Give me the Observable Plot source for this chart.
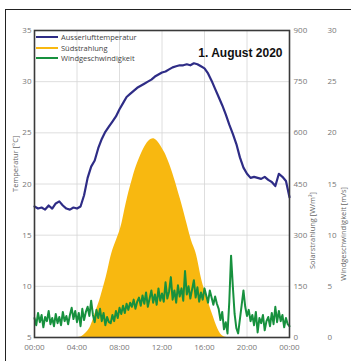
<!DOCTYPE html>
<html>
<head>
<meta charset="utf-8">
<script src="https://cdn.jsdelivr.net/npm/d3@7"></script>
<script src="https://cdn.jsdelivr.net/npm/@observablehq/plot@0.6"></script>
<style>
  html, body { margin: 0; padding: 0; background: #fff; }
  #wrap { position: relative; width: 351px; height: 361px; overflow: hidden; background:#fff; }
  #outer { position: absolute; left: 5px; top: 9px; width: 400px; height: 400px; border-top: 1px solid #222; border-left: 1px solid #222; pointer-events:none; }
  #legend { position: absolute; left: 36px; top: 32px; font-family: "Open Sans", sans-serif; font-size: 7.5px; color: #444; line-height: 10.5px; }
  #legend div { display: flex; align-items: center; white-space: nowrap; }
  #legend span.sw { display: inline-block; width: 22px; height: 2px; margin-right: 3px; }
  #chart { position: absolute; left: 0; top: 0; }
</style>
</head>
<body>
<div id="wrap">
  <div id="chart"></div>
  <div id="outer"></div>
  <div id="legend"></div>
</div>
<script>
// ---- data ----
const seriesNames = ["Ausserlufttemperatur", "Südstrahlung", "Windgeschwindigkeit"];
const seriesColors = ["#2e2c86", "#f8b810", "#17913e"];

// Außenlufttemperatur [°C], every 20 minutes from 00:00 to 24:00
const tempValues = [
  17.8, 17.6, 17.7, 17.5, 17.9, 17.6, 18.1, 18.3, 17.9, 17.6, 17.5, 17.7,
  17.6, 17.8, 18.9, 20.6, 21.7, 22.3, 23.5, 24.4, 25.1, 25.6, 26.1, 26.6,
  27.3, 27.9, 28.5, 28.8, 29.1, 29.4, 29.6, 29.8, 30.0, 30.2, 30.5, 30.7,
  30.9, 31.0, 31.2, 31.4, 31.5, 31.6, 31.6, 31.7, 31.6, 31.8, 31.7, 31.5,
  31.3, 30.8, 30.1, 29.3, 28.5, 27.7, 26.8, 25.8, 24.9, 23.9, 22.6, 21.6,
  21.0, 20.6, 20.7, 20.6, 20.5, 20.7, 20.4, 20.2, 19.8, 21.0, 20.7, 20.3,
  18.7
];

// Südstrahlung [W/m²], every 15 minutes from 00:00 to 24:00
const solarValues = [
  0, 0, 0, 0, 0, 0, 0, 0, 0, 0, 0, 0, 0, 0, 0, 0,
  0, 0, 3, 10, 18, 28, 50, 75, 95, 120, 148, 175, 210, 245, 268, 288,
  308, 335, 375, 410, 440, 468, 495, 515, 535, 552, 566, 576, 582, 584, 578, 568,
  556, 543, 525, 505, 483, 458, 430, 405, 375, 345, 315, 285, 265, 245, 205, 165,
  140, 118, 90, 68, 45, 25, 10, 3, 0, 0, 0, 0, 0, 0, 0, 0,
  0, 0, 0, 0, 0, 0, 0, 0, 0, 0, 0, 0, 0, 0, 0, 0,
  0
];

// Windgeschwindigkeit [m/s], every 10 minutes from 00:00 to 24:00
const windValues = [
  1.9, 1.2, 2.4, 1.5, 2.2, 1.0, 2.0,
  1.6, 2.6, 1.3, 1.9, 1.1, 2.3,
  1.4, 2.0, 1.2, 2.5, 1.6, 2.1,
  1.3, 2.2, 2.9, 1.8, 2.6, 1.5,
  2.4, 1.1, 2.8, 1.7, 2.5, 3.0,
  2.1, 3.6, 2.2, 1.5, 2.7, 1.9,
  2.8, 1.6, 2.4, 1.2, 2.0, 1.5,
  1.4, 2.2, 1.6, 2.6, 1.9, 2.9,
  2.3, 3.1, 2.4, 3.3, 2.7, 3.4,
  3.0, 3.7, 2.8, 3.5, 3.9, 3.1,
  4.1, 3.3, 4.4, 3.0, 3.8, 4.6,
  3.4, 4.2, 3.2, 4.8, 3.6, 4.3,
  3.5, 5.4, 3.8, 4.5, 5.9, 3.7,
  4.6, 3.4, 5.1, 4.0, 4.8, 3.6,
  6.5, 4.2, 5.0, 3.8, 4.7, 5.6,
  3.9, 4.9, 3.5, 4.4, 3.7, 4.8,
  4.1, 3.4, 4.6, 3.9, 3.2, 4.0,
  3.3, 2.8, 1.7, 2.5, 0.8, 1.5,
  0.4, 3.5, 8.0, 5.0, 2.3, 0.9,
  0.4, 1.8, 3.2, 4.6, 3.0, 2.1,
  2.7, 1.6, 2.2, 1.2, 2.5, 0.5,
  1.9, 1.4, 2.2, 0.7, 1.6, 2.0,
  1.1, 2.4, 1.3, 3.0, 1.5, 2.6,
  1.6, 2.2, 1.0, 1.9, 1.3, 1.1
];

const xTicks = [0, 4, 8, 12, 16, 20, 24];
const xTickLabels = ["00:00", "04:00", "08:00", "12:00", "16:00", "20:00", "00:00"];
const tempTicks = [5, 10, 15, 20, 25, 30, 35];
const solarTickLabels = ["0", "150", "300", "450", "600", "750", "900"];
const windTickLabels = ["0", "5", "10", "15", "20", "25", "30"];
const title = "1. August 2020";
const yLabelLeft = "Temperatur [°C]";
const yLabelSolar = "Solarstrahlung [W/m²]";
const yLabelWind = "Windgeschwindigkeit [m/s]";

// ---- tables ----
const temp = tempValues.map((v, i) => ({h: i / 3, v}));
const solar = solarValues.map((v, i) => ({h: i / 4, v}));
const wind = windValues.map((v, i) => ({h: i / 6, v}));
// map secondary axes onto the temperature scale (5..35)
const solarToY = w => 5 + w / 30;   // 0..900 -> 5..35
const windToY = s => 5 + s;         // 0..30 -> 5..35

const chart = Plot.plot({
  width: 351,
  height: 361,
  marginLeft: 34,
  marginRight: 62,
  marginTop: 30,
  marginBottom: 24,
  style: {fontFamily: "'Open Sans', sans-serif", fontSize: "8px", color: "#777", background: "transparent"},
  x: {domain: [0, 24]},
  y: {domain: [5, 35]},
  marks: [
    Plot.gridX(xTicks, {stroke: "#d6d6d6", strokeOpacity: 1, strokeWidth: 0.8}),
    Plot.gridY(tempTicks, {stroke: "#d6d6d6", strokeOpacity: 1, strokeWidth: 0.8}),
    Plot.areaY(solar, {x: "h", y1: 5, y2: d => solarToY(d.v), fill: seriesColors[1], curve: "basis"}),
    Plot.lineY(wind, {x: "h", y: d => windToY(d.v), stroke: seriesColors[2], strokeWidth: 2, curve: "linear"}),
    Plot.lineY(temp, {x: "h", y: "v", stroke: seriesColors[0], strokeWidth: 2.2, curve: "linear"}),
    Plot.frame({stroke: "#3a3a3a", strokeWidth: 1.6}),
    Plot.axisX(xTicks, {tickSize: 0, tickPadding: 7, tickFormat: d => xTickLabels[d / 4], label: null, fill: "#777"}),
    Plot.axisY(tempTicks, {anchor: "left", tickSize: 0, tickPadding: 3, label: null, fill: "#777"}),
    Plot.axisY(tempTicks, {anchor: "right", tickSize: 0, tickPadding: 4, tickFormat: d => solarTickLabels[(d - 5) / 5], label: null, fill: "#777"}),
    Plot.axisY(tempTicks, {anchor: "right", tickSize: 0, tickPadding: 4, dx: 34, tickFormat: d => windTickLabels[(d - 5) / 5], label: null, fill: "#777"}),
    Plot.text([yLabelLeft], {frameAnchor: "left", rotate: -90, dx: -19, dy: 8, fontSize: 7.5, fill: "#666"}),
    Plot.text([yLabelSolar], {frameAnchor: "right", rotate: -90, dx: 23, dy: 8, fontSize: 7.5, fill: "#666"}),
    Plot.text([yLabelWind], {frameAnchor: "right", rotate: -90, dx: 54, dy: 3, fontSize: 7.5, fill: "#666"}),
    Plot.text([title], {frameAnchor: "top-right", dx: -7, dy: 18, fontSize: 12, fontWeight: "bold", fill: "#111", fontFamily: "'Liberation Sans', Arial, sans-serif"})
  ]
});
document.getElementById("chart").appendChild(chart);

const legend = document.getElementById("legend");
seriesNames.forEach((name, i) => {
  const row = document.createElement("div");
  const sw = document.createElement("span");
  sw.className = "sw";
  sw.style.background = seriesColors[i];
  row.appendChild(sw);
  row.appendChild(document.createTextNode(name));
  legend.appendChild(row);
});
</script>
</body>
</html>
